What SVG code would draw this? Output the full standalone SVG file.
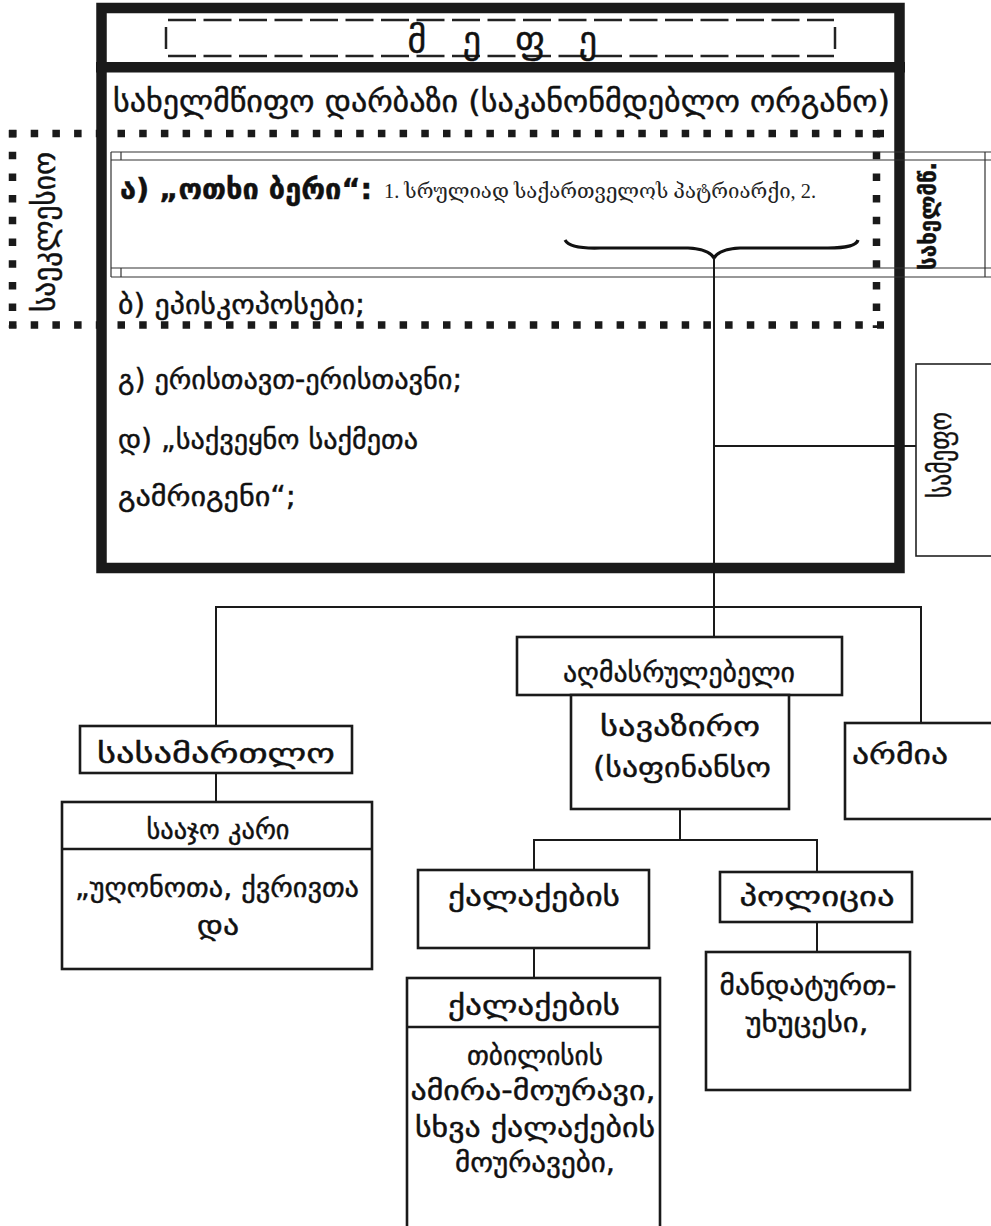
<svg xmlns="http://www.w3.org/2000/svg" width="991" height="1226" viewBox="0 0 991 1226">
<style>
.geo{font-family:"DejaVu Sans","DejaVu Serif",sans-serif;fill:#111;stroke:#111;stroke-width:0.45;}
.lbl{font-size:28px;}
.big{font-size:30px;}
.small{font-family:"Liberation Serif","DejaVu Serif",serif;font-size:20px;fill:#222;}
.box{fill:#fff;stroke:#1a1a1a;stroke-width:2.6;}
.thin{fill:none;stroke:#333;stroke-width:1.2;}
.dots{fill:none;stroke:#1a1a1a;stroke-width:7.5;stroke-dasharray:7.5 14.2;}
.conn{fill:none;stroke:#1a1a1a;stroke-width:2;}
.dash{fill:none;stroke:#222;stroke-width:2.5;stroke-dasharray:28 7.5;}
</style>
<rect x="0" y="0" width="991" height="1226" fill="#fff"/>

<!-- church dotted region -->
<g id="church-region">
  <line class="dots" x1="9" y1="133.5" x2="884" y2="133.5"/>
  <line class="dots" x1="9" y1="325" x2="884" y2="325"/>
  <line class="dots" x1="12.5" y1="130" x2="12.5" y2="328"/>
  <line class="dots" x1="876.5" y1="130" x2="876.5" y2="328"/>
  <text class="geo big" transform="translate(55,232) rotate(-90)" text-anchor="middle" textLength="160" lengthAdjust="spacingAndGlyphs">საეკლესიო</text>
</g>

<!-- state council main box -->
<g id="council">
  <rect x="101.5" y="8" width="798" height="560" fill="none" stroke="#1a1a1a" stroke-width="10.5"/>
  <rect x="96" y="62" width="809" height="10.5" fill="#1a1a1a"/>
</g>

<g id="king">
  <line class="dash" x1="168" y1="20" x2="834" y2="20"/>
  <line class="dash" x1="168" y1="56" x2="834" y2="56"/>
  <line x1="166" y1="27" x2="166" y2="49" stroke="#222" stroke-width="2.5"/>
  <line x1="835" y1="27" x2="835" y2="49" stroke="#222" stroke-width="2.5"/>
  <text class="geo" font-size="36" stroke-width="0.8" x="417" y="52" text-anchor="middle">მ</text>
  <text class="geo" font-size="36" stroke-width="0.8" x="472" y="52" text-anchor="middle">ე</text>
  <text class="geo" font-size="36" stroke-width="0.8" x="530" y="52" text-anchor="middle">ფ</text>
  <text class="geo" font-size="36" stroke-width="0.8" x="588" y="52" text-anchor="middle">ე</text>
</g>

<g id="council-title">
  <text class="geo big" x="113" y="112" textLength="777" lengthAdjust="spacingAndGlyphs">სახელმწიფო დარბაზი (საკანონმდებლო ორგანო)</text>
</g>

<!-- four elders strip -->
<g id="four-elders">
  <line class="thin" x1="111" y1="152" x2="991" y2="152"/>
  <line class="thin" x1="111" y1="160" x2="991" y2="160"/>
  <line class="thin" x1="111" y1="268" x2="991" y2="268"/>
  <line class="thin" x1="111" y1="277" x2="991" y2="277"/>
  <line class="thin" x1="111" y1="152" x2="111" y2="277"/>
  <line class="thin" x1="121" y1="152" x2="121" y2="160"/>
  <line class="thin" x1="121" y1="268" x2="121" y2="277"/>
  <line class="thin" x1="985" y1="152" x2="985" y2="277"/>
  <text class="geo lbl" x="120" y="199" textLength="252" lengthAdjust="spacingAndGlyphs" font-weight="bold">ა) „ოთხი ბერი“:</text>
  <text class="small" x="384" y="198" textLength="432" lengthAdjust="spacingAndGlyphs">1. სრულიად საქართველოს პატრიარქი,  2.</text>
  <path d="M565,240 Q570,249 600,248 L688,248 Q709,249 714,258 Q719,249 740,248 L828,248 Q856,248 858,240" fill="none" stroke="#111" stroke-width="3.2"/>
  <text class="geo" font-size="24" font-weight="bold" transform="translate(936,216) rotate(-90)" text-anchor="middle" textLength="108" lengthAdjust="spacingAndGlyphs">სახელმწ.</text>
</g>

<g id="council-members">
  <text class="geo lbl" x="118" y="314" textLength="247" lengthAdjust="spacingAndGlyphs">ბ) ეპისკოპოსები;</text>
  <text class="geo lbl" x="118" y="389" textLength="344" lengthAdjust="spacingAndGlyphs">გ) ერისთავთ-ერისთავნი;</text>
  <text class="geo lbl" x="118" y="449" textLength="300" lengthAdjust="spacingAndGlyphs">დ) „საქვეყნო საქმეთა</text>
  <text class="geo lbl" x="118" y="506" textLength="178" lengthAdjust="spacingAndGlyphs">გამრიგენი“;</text>
</g>

<!-- connectors -->
<g id="connectors">
  <line class="conn" x1="714" y1="258" x2="714" y2="637"/>
  <line class="conn" x1="714" y1="446" x2="916" y2="446"/>
  <polyline class="conn" points="216,726 216,607 921,607 921,723"/>
  <line class="conn" x1="216" y1="773" x2="216" y2="802"/>
  <polyline class="conn" points="534,870 534,840 817,840 817,872"/>
  <line class="conn" x1="680" y1="809" x2="680" y2="840"/>
  <line class="conn" x1="534" y1="948" x2="534" y2="978"/>
  <line class="conn" x1="817" y1="922" x2="817" y2="952"/>
</g>

<g id="royal">
  <rect x="916" y="364" width="90" height="192" fill="#fff" stroke="#222" stroke-width="1.6"/>
  <text class="geo" font-size="30" transform="translate(951,455) rotate(-90)" text-anchor="middle" textLength="86" lengthAdjust="spacingAndGlyphs">სამეფო</text>
</g>

<g id="executive">
  <rect class="box" x="517" y="637" width="325" height="58" stroke-width="3"/>
  <text class="geo lbl" x="679" y="682" text-anchor="middle" textLength="232" lengthAdjust="spacingAndGlyphs">აღმასრულებელი</text>
</g>

<g id="vizier">
  <rect class="box" x="571" y="695" width="218" height="114"/>
  <text class="geo lbl" x="680" y="736" text-anchor="middle" textLength="160" lengthAdjust="spacingAndGlyphs">სავაზირო</text>
  <text class="geo lbl" x="682" y="777" text-anchor="middle" textLength="178" lengthAdjust="spacingAndGlyphs">(საფინანსო</text>
</g>

<g id="army">
  <rect class="box" x="845" y="723" width="160" height="96"/>
  <text class="geo lbl" x="852" y="764" textLength="96" lengthAdjust="spacingAndGlyphs">არმია</text>
</g>

<g id="court">
  <rect class="box" x="80" y="726" width="272" height="47"/>
  <text class="geo lbl" x="216" y="763" text-anchor="middle" textLength="238" lengthAdjust="spacingAndGlyphs">სასამართლო</text>
</g>

<g id="appeal-court">
  <rect class="box" x="62" y="802" width="310" height="167"/>
  <line x1="62" y1="849" x2="372" y2="849" stroke="#1a1a1a" stroke-width="2.6"/>
  <text class="geo lbl" x="218" y="839" text-anchor="middle" textLength="143" lengthAdjust="spacingAndGlyphs">სააჯო კარი</text>
  <text class="geo lbl" x="217" y="897" text-anchor="middle" textLength="284" lengthAdjust="spacingAndGlyphs">„უღონოთა, ქვრივთა</text>
  <text class="geo lbl" x="218" y="935" text-anchor="middle" textLength="42" lengthAdjust="spacingAndGlyphs">და</text>
</g>

<g id="cities">
  <rect class="box" x="418" y="870" width="231" height="78"/>
  <text class="geo lbl" x="534" y="906" text-anchor="middle" textLength="172" lengthAdjust="spacingAndGlyphs">ქალაქების</text>
</g>

<g id="police">
  <rect class="box" x="720" y="872" width="192" height="50"/>
  <text class="geo lbl" x="817" y="906" text-anchor="middle" textLength="155" lengthAdjust="spacingAndGlyphs">პოლიცია</text>
</g>

<g id="mandatur">
  <rect class="box" x="706" y="952" width="204" height="138"/>
  <text class="geo lbl" x="808" y="995" text-anchor="middle" textLength="177" lengthAdjust="spacingAndGlyphs">მანდატურთ-</text>
  <text class="geo lbl" x="807" y="1032" text-anchor="middle" textLength="123" lengthAdjust="spacingAndGlyphs">უხუცესი,</text>
</g>

<g id="city-governors">
  <rect class="box" x="407" y="978" width="253" height="270"/>
  <line x1="407" y1="1027" x2="660" y2="1027" stroke="#1a1a1a" stroke-width="2.6"/>
  <text class="geo lbl" x="534" y="1015" text-anchor="middle" textLength="172" lengthAdjust="spacingAndGlyphs">ქალაქების</text>
  <text class="geo lbl" x="535" y="1065" text-anchor="middle" textLength="136" lengthAdjust="spacingAndGlyphs">თბილისის</text>
  <text class="geo lbl" x="533" y="1100" text-anchor="middle" textLength="245" lengthAdjust="spacingAndGlyphs">ამირა-მოურავი,</text>
  <text class="geo lbl" x="535" y="1137" text-anchor="middle" textLength="240" lengthAdjust="spacingAndGlyphs">სხვა ქალაქების</text>
  <text class="geo lbl" x="535" y="1172" text-anchor="middle" textLength="160" lengthAdjust="spacingAndGlyphs">მოურავები,</text>
</g>
</svg>
